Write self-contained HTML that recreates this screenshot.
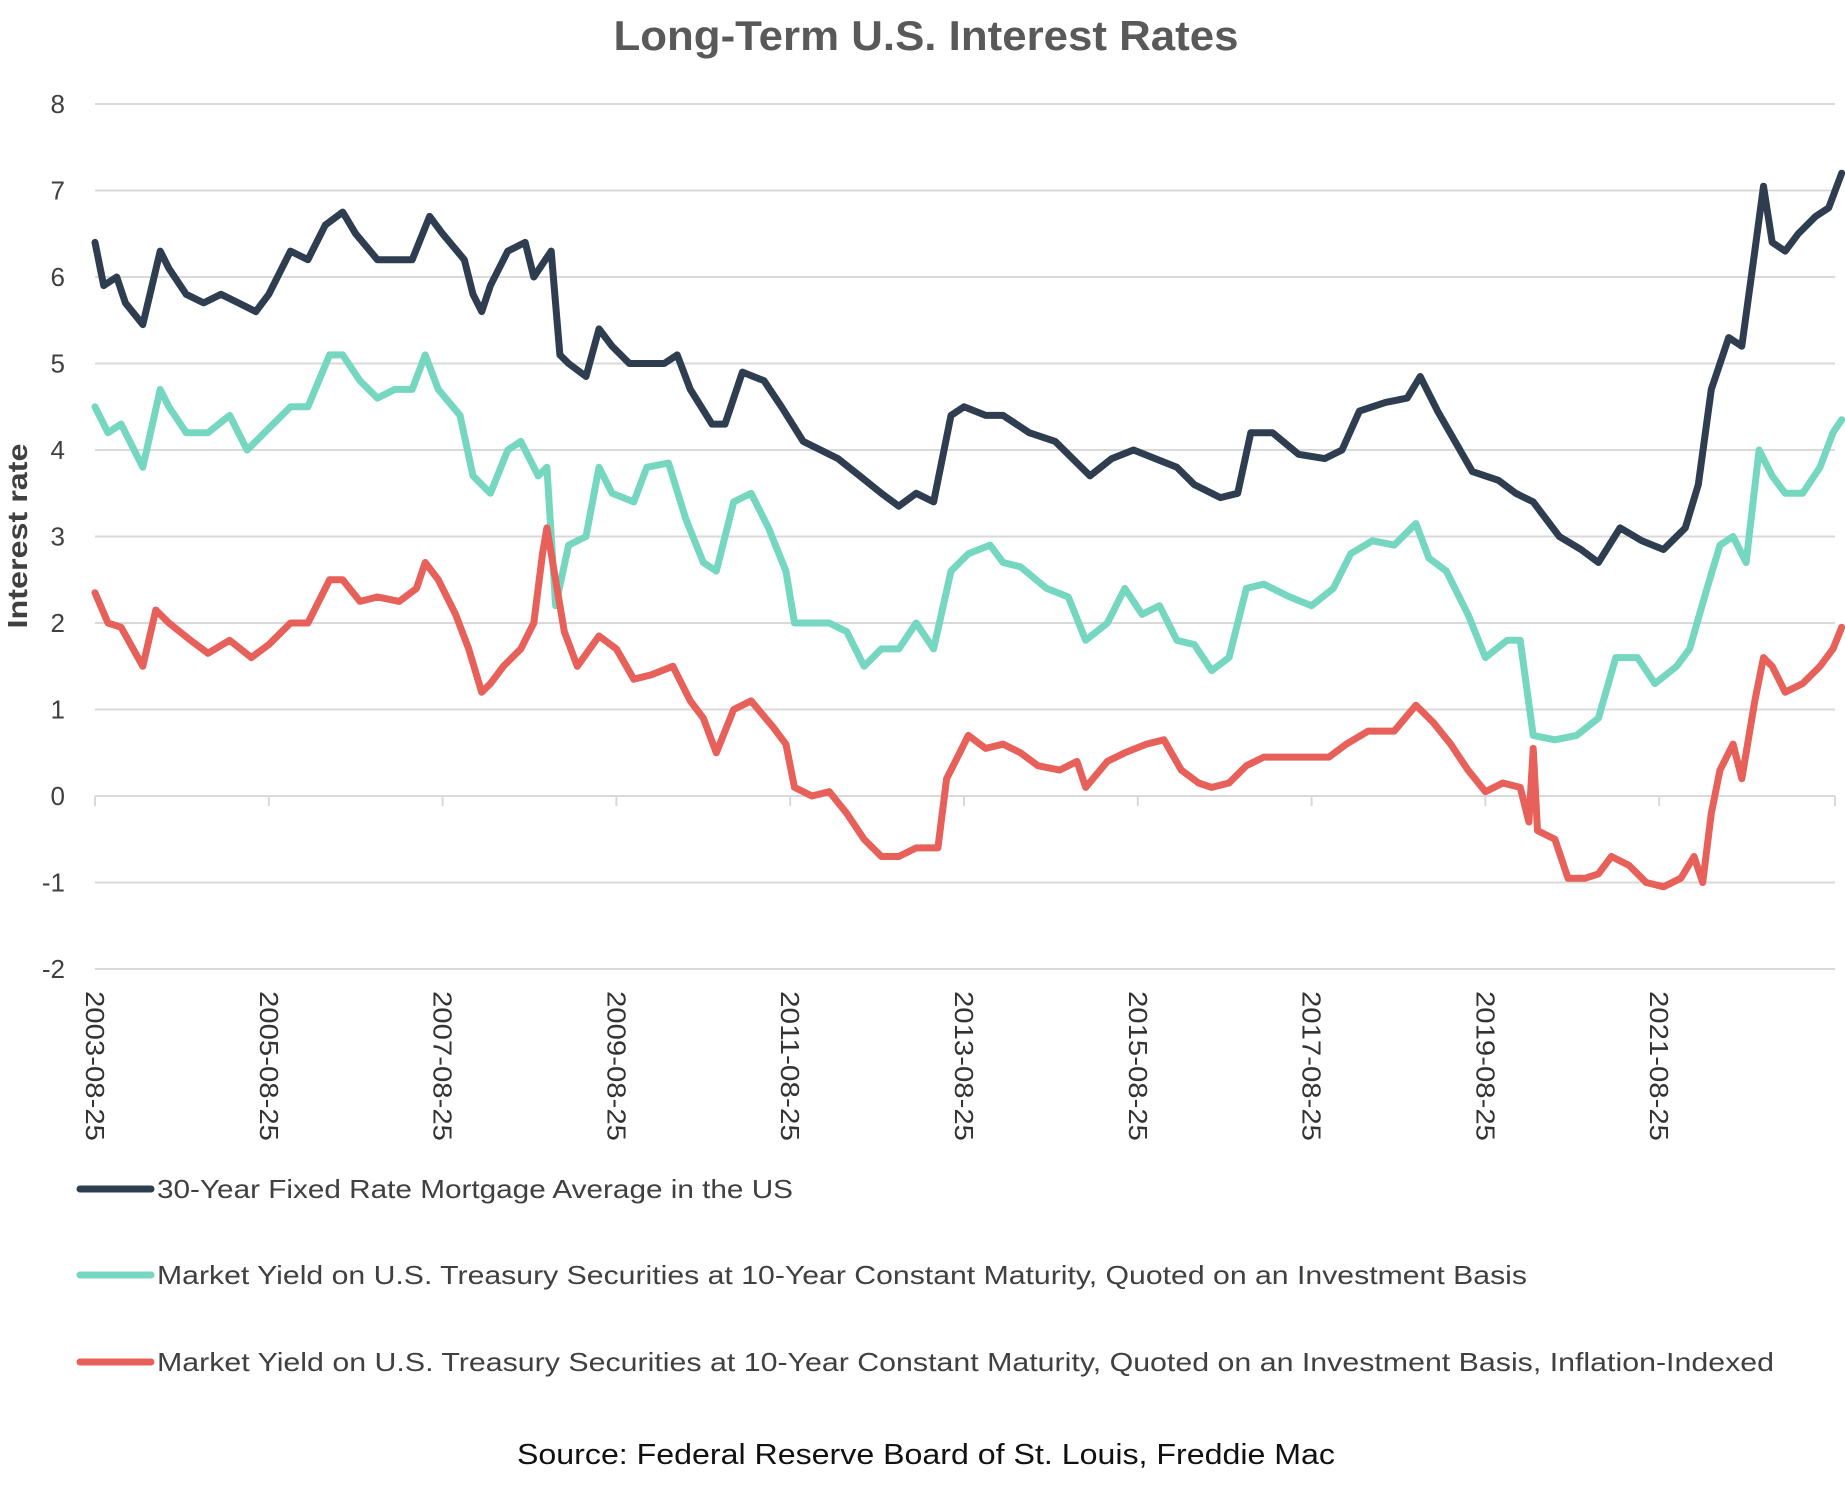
<!DOCTYPE html>
<html><head><meta charset="utf-8"><style>
html,body{margin:0;padding:0;background:#fff}
svg{display:block;font-family:"Liberation Sans",sans-serif}
</style></head><body>
<svg id="chart" width="1845" height="1493" viewBox="0 0 1845 1493">
<text x="926" y="50" text-anchor="middle" font-size="42" font-weight="bold" fill="#595959" textLength="625" lengthAdjust="spacingAndGlyphs">Long-Term U.S. Interest Rates</text>
<text transform="translate(27,536) rotate(-90)" text-anchor="middle" font-size="28" font-weight="bold" fill="#404040" textLength="185" lengthAdjust="spacingAndGlyphs">Interest rate</text>
<g id="grid"></g><g id="yticks"></g><g id="xticks"></g><g id="series"></g>
<g id="legend"></g>
<text x="926" y="1464" text-anchor="middle" font-size="29" fill="#111" textLength="818" lengthAdjust="spacingAndGlyphs">Source: Federal Reserve Board of St. Louis, Freddie Mac</text>
</svg>
<script>
const yTicks=[8,7,6,5,4,3,2,1,0,-1,-2];
const xTickYears=[2003,2005,2007,2009,2011,2013,2015,2017,2019,2021];
const xTickLabels=["2003-08-25","2005-08-25","2007-08-25","2009-08-25","2011-08-25","2013-08-25","2015-08-25","2017-08-25","2019-08-25","2021-08-25"];
const seriesNames=["30-Year Fixed Rate Mortgage Average in the US","Market Yield on U.S. Treasury Securities at 10-Year Constant Maturity, Quoted on an Investment Basis","Market Yield on U.S. Treasury Securities at 10-Year Constant Maturity, Quoted on an Investment Basis, Inflation-Indexed"];
const mortDates=[2003.65,2003.75,2003.9,2004.0,2004.2,2004.4,2004.5,2004.7,2004.9,2005.1,2005.3,2005.5,2005.65,2005.9,2006.1,2006.3,2006.5,2006.65,2006.9,2007.1,2007.3,2007.5,2007.65,2007.9,2008.0,2008.1,2008.2,2008.4,2008.6,2008.7,2008.9,2009.0,2009.1,2009.3,2009.45,2009.6,2009.8,2010.0,2010.2,2010.35,2010.5,2010.75,2010.9,2011.1,2011.35,2011.55,2011.8,2012.0,2012.2,2012.45,2012.7,2012.9,2013.1,2013.3,2013.5,2013.65,2013.9,2014.1,2014.4,2014.7,2014.9,2015.1,2015.35,2015.6,2015.85,2016.1,2016.3,2016.6,2016.8,2016.95,2017.2,2017.5,2017.8,2018.0,2018.2,2018.5,2018.75,2018.9,2019.1,2019.3,2019.5,2019.8,2020.0,2020.2,2020.5,2020.75,2020.95,2021.2,2021.45,2021.7,2021.95,2022.1,2022.25,2022.45,2022.6,2022.75,2022.85,2022.95,2023.1,2023.25,2023.45,2023.6,2023.75];
const mortValues=[6.4,5.9,6.0,5.7,5.45,6.3,6.1,5.8,5.7,5.8,5.7,5.6,5.8,6.3,6.2,6.6,6.75,6.5,6.2,6.2,6.2,6.7,6.5,6.2,5.8,5.6,5.9,6.3,6.4,6.0,6.3,5.1,5.0,4.85,5.4,5.2,5.0,5.0,5.0,5.1,4.7,4.3,4.3,4.9,4.8,4.5,4.1,4.0,3.9,3.7,3.5,3.35,3.5,3.4,4.4,4.5,4.4,4.4,4.2,4.1,3.9,3.7,3.9,4.0,3.9,3.8,3.6,3.45,3.5,4.2,4.2,3.95,3.9,4.0,4.45,4.55,4.6,4.85,4.45,4.1,3.75,3.65,3.5,3.4,3.0,2.85,2.7,3.1,2.95,2.85,3.1,3.6,4.7,5.3,5.2,6.3,7.05,6.4,6.3,6.5,6.7,6.8,7.2];
const tsyDates=[2003.65,2003.8,2003.95,2004.2,2004.4,2004.5,2004.7,2004.95,2005.2,2005.4,2005.65,2005.9,2006.1,2006.35,2006.5,2006.7,2006.9,2007.1,2007.3,2007.45,2007.6,2007.85,2008.0,2008.2,2008.4,2008.55,2008.75,2008.85,2008.95,2009.1,2009.3,2009.45,2009.6,2009.85,2010.0,2010.25,2010.45,2010.65,2010.8,2011.0,2011.2,2011.4,2011.6,2011.7,2011.9,2012.1,2012.3,2012.5,2012.7,2012.9,2013.1,2013.3,2013.5,2013.7,2013.95,2014.1,2014.3,2014.6,2014.85,2015.05,2015.3,2015.5,2015.7,2015.9,2016.1,2016.3,2016.5,2016.7,2016.9,2017.1,2017.4,2017.65,2017.9,2018.1,2018.35,2018.6,2018.85,2019.0,2019.2,2019.45,2019.65,2019.9,2020.05,2020.2,2020.45,2020.7,2020.95,2021.15,2021.4,2021.6,2021.85,2022.0,2022.2,2022.35,2022.5,2022.65,2022.8,2022.95,2023.1,2023.3,2023.5,2023.65,2023.75];
const tsyValues=[4.5,4.2,4.3,3.8,4.7,4.5,4.2,4.2,4.4,4.0,4.25,4.5,4.5,5.1,5.1,4.8,4.6,4.7,4.7,5.1,4.7,4.4,3.7,3.5,4.0,4.1,3.7,3.8,2.2,2.9,3.0,3.8,3.5,3.4,3.8,3.85,3.2,2.7,2.6,3.4,3.5,3.1,2.6,2.0,2.0,2.0,1.9,1.5,1.7,1.7,2.0,1.7,2.6,2.8,2.9,2.7,2.65,2.4,2.3,1.8,2.0,2.4,2.1,2.2,1.8,1.75,1.45,1.6,2.4,2.45,2.3,2.2,2.4,2.8,2.95,2.9,3.15,2.75,2.6,2.1,1.6,1.8,1.8,0.7,0.65,0.7,0.9,1.6,1.6,1.3,1.5,1.7,2.4,2.9,3.0,2.7,4.0,3.7,3.5,3.5,3.8,4.2,4.35];
const tipsDates=[2003.65,2003.8,2003.95,2004.2,2004.35,2004.5,2004.75,2004.95,2005.2,2005.45,2005.65,2005.9,2006.1,2006.35,2006.5,2006.7,2006.9,2007.15,2007.35,2007.45,2007.6,2007.8,2007.95,2008.1,2008.2,2008.35,2008.55,2008.7,2008.8,2008.85,2008.95,2009.05,2009.2,2009.45,2009.65,2009.85,2010.05,2010.3,2010.5,2010.65,2010.8,2011.0,2011.2,2011.45,2011.6,2011.7,2011.9,2012.1,2012.3,2012.5,2012.7,2012.9,2013.1,2013.35,2013.45,2013.6,2013.7,2013.9,2014.1,2014.3,2014.5,2014.75,2014.95,2015.05,2015.3,2015.5,2015.75,2015.95,2016.15,2016.35,2016.5,2016.7,2016.9,2017.1,2017.35,2017.6,2017.85,2018.05,2018.3,2018.6,2018.85,2019.05,2019.25,2019.45,2019.65,2019.85,2020.05,2020.15,2020.2,2020.25,2020.45,2020.6,2020.8,2020.95,2021.1,2021.3,2021.5,2021.7,2021.9,2022.05,2022.15,2022.25,2022.35,2022.5,2022.6,2022.75,2022.85,2022.95,2023.1,2023.3,2023.5,2023.65,2023.75];
const tipsValues=[2.35,2.0,1.95,1.5,2.15,2.0,1.8,1.65,1.8,1.6,1.75,2.0,2.0,2.5,2.5,2.25,2.3,2.25,2.4,2.7,2.5,2.1,1.7,1.2,1.3,1.5,1.7,2.0,2.8,3.1,2.5,1.9,1.5,1.85,1.7,1.35,1.4,1.5,1.1,0.9,0.5,1.0,1.1,0.8,0.6,0.1,0.0,0.05,-0.2,-0.5,-0.7,-0.7,-0.6,-0.6,0.2,0.5,0.7,0.55,0.6,0.5,0.35,0.3,0.4,0.1,0.4,0.5,0.6,0.65,0.3,0.15,0.1,0.15,0.35,0.45,0.45,0.45,0.45,0.6,0.75,0.75,1.05,0.85,0.6,0.3,0.05,0.15,0.1,-0.3,0.55,-0.4,-0.5,-0.95,-0.95,-0.9,-0.7,-0.8,-1.0,-1.05,-0.95,-0.7,-1.0,-0.2,0.3,0.6,0.2,1.1,1.6,1.5,1.2,1.3,1.5,1.7,1.95];
const colors=["#2e3e50","#76d7c0","#e8605a"];

const NS="http://www.w3.org/2000/svg";
const X0=95,PX_PER_YEAR=86.9,START=2003.65;
function xs(t){return X0+(t-START)*PX_PER_YEAR;}
function ys(v){return 104+(8-v)*86.5;}
function mk(tag,attrs,parent){const e=document.createElementNS(NS,tag);for(const k in attrs)e.setAttribute(k,attrs[k]);parent.appendChild(e);return e;}
const grid=document.getElementById('grid'),yt=document.getElementById('yticks'),xt=document.getElementById('xticks'),sg=document.getElementById('series'),lg=document.getElementById('legend');
yTicks.forEach(v=>{
  const l=mk('line',{x1:95,x2:1835,y1:ys(v),y2:ys(v),stroke:'#d9d9d9','stroke-width':2},grid);
  
  
  const t=mk('text',{x:65,y:ys(v)+9,'text-anchor':'end','font-size':26,fill:'#404040'},yt);
  t.textContent=v;
  
  
});
xTickYears.forEach((yr,i)=>{
  const x=xs(yr+0.65);
  const tk=mk('line',{x1:x,x2:x,y1:ys(0),y2:ys(0)+10,stroke:'#d9d9d9','stroke-width':2},xt);
  
  
  const t=mk('text',{transform:`translate(${x-9},991) rotate(90)`,'font-size':26,fill:'#333',textLength:150,lengthAdjust:'spacingAndGlyphs'},xt);
  t.textContent=xTickLabels[i];
  
  
});
const lastTick=mk('line',{x1:1835,x2:1835,y1:ys(0),y2:ys(0)+10,stroke:'#d9d9d9','stroke-width':2},xt);


const allDates=[mortDates,tsyDates,tipsDates],allVals=[mortValues,tsyValues,tipsValues];
const seriesIds=['mortgage-line','treasury-10y-line','tips-10y-line'];
[1,2,0].forEach(s=>{
  const d=allDates[s].map((t,i)=>(i?'L':'M')+xs(t).toFixed(1)+','+ys(allVals[s][i]).toFixed(1)).join(' ');
  const p=mk('path',{d:d,fill:'none',stroke:colors[s],'stroke-width':7,'stroke-linejoin':'round','stroke-linecap':'round'},sg);
  
  
});
const legY=[1189,1275,1362],legW=[636,1370,1617];
seriesNames.forEach((n,i)=>{
  const g=mk('g',{},lg);
  
  
  mk('line',{x1:80,x2:151,y1:legY[i],y2:legY[i],stroke:colors[i],'stroke-width':7,'stroke-linecap':'round'},g);
  const t=mk('text',{x:157,y:legY[i]+9,'font-size':26,fill:'#404040',textLength:legW[i],lengthAdjust:'spacingAndGlyphs'},g);
  t.textContent=n;
});
</script>
</body></html>
